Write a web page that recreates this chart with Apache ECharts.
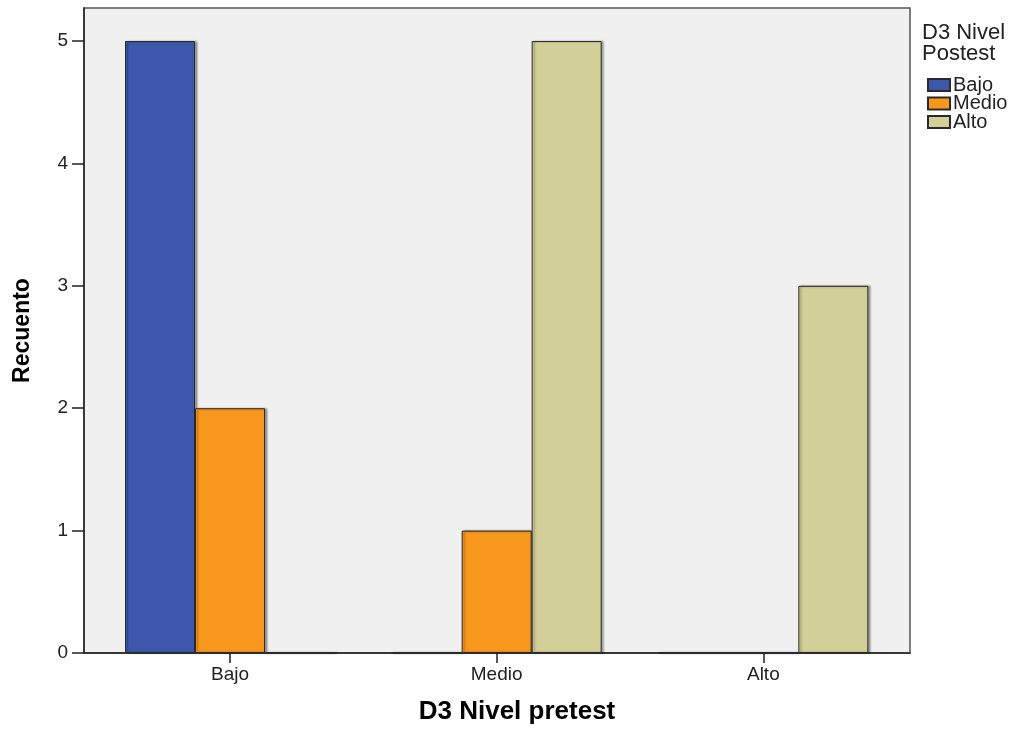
<!DOCTYPE html>
<html>
<head>
<meta charset="utf-8">
<script src="https://cdn.jsdelivr.net/npm/echarts@6/dist/echarts.min.js"></script>
<style>
html,body{margin:0;padding:0;background:#fff;}
#chart{width:1019px;height:731px;}
</style>
</head>
<body>
<div id="chart"></div>
<script>
// Data
var categories = ['Bajo', 'Medio', 'Alto'];           // D3 Nivel pretest
var seriesNames = ['Bajo', 'Medio', 'Alto'];          // D3 Nivel Postest
var valuesBajo = [5, 0, 0];
var valuesMedio = [2, 1, 0];
var valuesAlto = [0, 5, 3];
var yTicks = [0, 1, 2, 3, 4, 5];
var xTitle = 'D3 Nivel pretest';
var yTitle = 'Recuento';
var legendTitle = 'D3 Nivel\nPostest';

var colors = ['#3d58aa', '#f7981d', '#d3cf98'];
var seriesValues = [valuesBajo, valuesMedio, valuesAlto];
var catIdx = categories.map(function (c, i) { return i; });

var FONT = '"Liberation Sans", Arial, sans-serif';

var chart = echarts.init(document.getElementById('chart'), null, { renderer: 'canvas' });

var series = seriesNames.map(function (name, s) {
  return {
    name: name,
    type: 'bar',
    barWidth: 70,
    barGap: '0%',
    data: seriesValues[s].map(function (v, i) { return [catIdx[i], v]; }),
    itemStyle: {
      color: colors[s],
      borderColor: '#2a2a2a',
      borderWidth: 1,
      shadowColor: 'rgba(0,0,0,0.35)',
      shadowOffsetX: 2,
      shadowOffsetY: 0,
      shadowBlur: 2
    },
    emphasis: { disabled: true },
    animation: false
  };
});

var option = {
  animation: false,
  color: colors,
  title: {
    text: legendTitle,
    left: 922,
    top: 22,
    padding: 0,
    textStyle: { fontFamily: FONT, fontSize: 22, fontWeight: 'normal', color: '#222', lineHeight: 21 }
  },
  legend: {
    orient: 'vertical',
    left: 927,
    top: 75,
    padding: 0,
    itemWidth: 22,
    itemHeight: 12,
    itemGap: -1.5,
    icon: 'rect',
    data: seriesNames,
    textStyle: { fontFamily: FONT, fontSize: 20, color: '#222', padding: [0, 0, 0, -2] },
    selectedMode: false
  },
  grid: {
    left: 84,
    right: 1019 - 910,
    top: 8,
    bottom: 731 - 653,
    show: true,
    backgroundColor: '#f0f0f0',
    borderColor: '#555',
    borderWidth: 1.5,
    containLabel: false
  },
  xAxis: {
    type: 'value',
    min: -0.5475,
    max: 2.55,
    name: xTitle,
    nameLocation: 'middle',
    nameGap: 46,
    nameTextStyle: { fontFamily: FONT, fontSize: 26, fontWeight: 'bold', color: '#000', padding: [0, 0, 0, 40] },
    axisLine: { show: true, onZero: false, lineStyle: { color: '#222', width: 1.5 } },
    axisTick: { show: true, customValues: catIdx, length: 10, lineStyle: { color: '#222', width: 1.5 } },
    axisLabel: {
      customValues: catIdx,
      margin: 12,
      fontFamily: FONT, fontSize: 19, color: '#222',
      formatter: function (v) { return categories[Math.round(v)]; }
    },
    splitLine: { show: false }
  },
  yAxis: {
    type: 'value',
    min: 0,
    max: 5.27,
    interval: 1,
    name: yTitle,
    nameLocation: 'middle',
    nameGap: 50,
    nameTextStyle: { fontFamily: FONT, fontSize: 23, fontWeight: 'bold', color: '#000' },
    axisLine: { show: true, onZero: false, lineStyle: { color: '#222', width: 1.5 } },
    axisTick: { show: true, customValues: yTicks, length: 12, lineStyle: { color: '#222', width: 1.5 } },
    axisLabel: {
      customValues: yTicks,
      margin: 16,
      fontFamily: FONT, fontSize: 19, color: '#222'
    },
    splitLine: { show: false }
  },
  series: series
};

chart.setOption(option);
</script>
</body>
</html>
